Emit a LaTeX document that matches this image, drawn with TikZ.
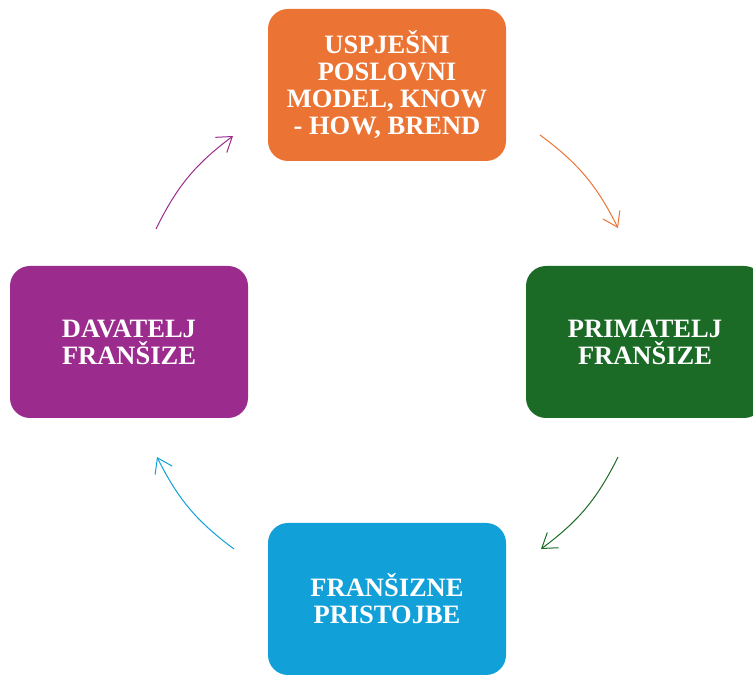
\documentclass[tikz,border=0pt]{standalone}
\usepackage{fontspec}
\setmainfont{Liberation Serif}
\usetikzlibrary{arrows.meta}
\definecolor{fransorange}{HTML}{EB7434}
\definecolor{fransgreen}{HTML}{1B6B26}
\definecolor{franspurple}{HTML}{9C2B8E}
\definecolor{fransblue}{HTML}{11A0D8}
\begin{document}
\begin{tikzpicture}[x=1pt,y=1pt]
				\tikzstyle{Stage} = [rectangle, rounded corners=20pt, minimum width=238pt, minimum height=152pt, inner sep=0pt, text=white, align=center, font=\bfseries\fontsize{26.5}{27}\selectfont]
				\tikzstyle{Cycle} = [-{Straight Barb[length=14pt,width=19pt]}, line width=1pt]
				\useasboundingbox (0,0) rectangle (753,675);
				\node (model) at (387,590) [Stage, fill=fransorange] {USPJEŠNI\\POSLOVNI\\MODEL, KNOW\\- HOW, BREND};
				\node (primatelj) at (645,333) [Stage, fill=fransgreen] {PRIMATELJ\\FRANŠIZE};
				\node (pristojbe) at (387,76) [Stage, fill=fransblue] {FRANŠIZNE\\PRISTOJBE};
				\node (davatelj) at (129,333) [Stage, fill=franspurple] {DAVATELJ\\FRANŠIZE};
				\coordinate (m1) at (540,540);
				\coordinate (m2) at (618,447);
				\coordinate (g1) at (618,218);
				\coordinate (g2) at (541,126);
				\coordinate (b1) at (234,126);
				\coordinate (b2) at (157,218);
				\coordinate (d1) at (156,446);
				\coordinate (d2) at (233,539);
				\draw [Cycle, fransorange] (m1) to[bend left=13.5] (m2);
				\draw [Cycle, fransgreen] (g1) to[bend left=13.5] (g2);
				\draw [Cycle, fransblue] (b1) to[bend left=13.5] (b2);
				\draw [Cycle, franspurple] (d1) to[bend left=13.5] (d2);
			\end{tikzpicture}
\end{document}
